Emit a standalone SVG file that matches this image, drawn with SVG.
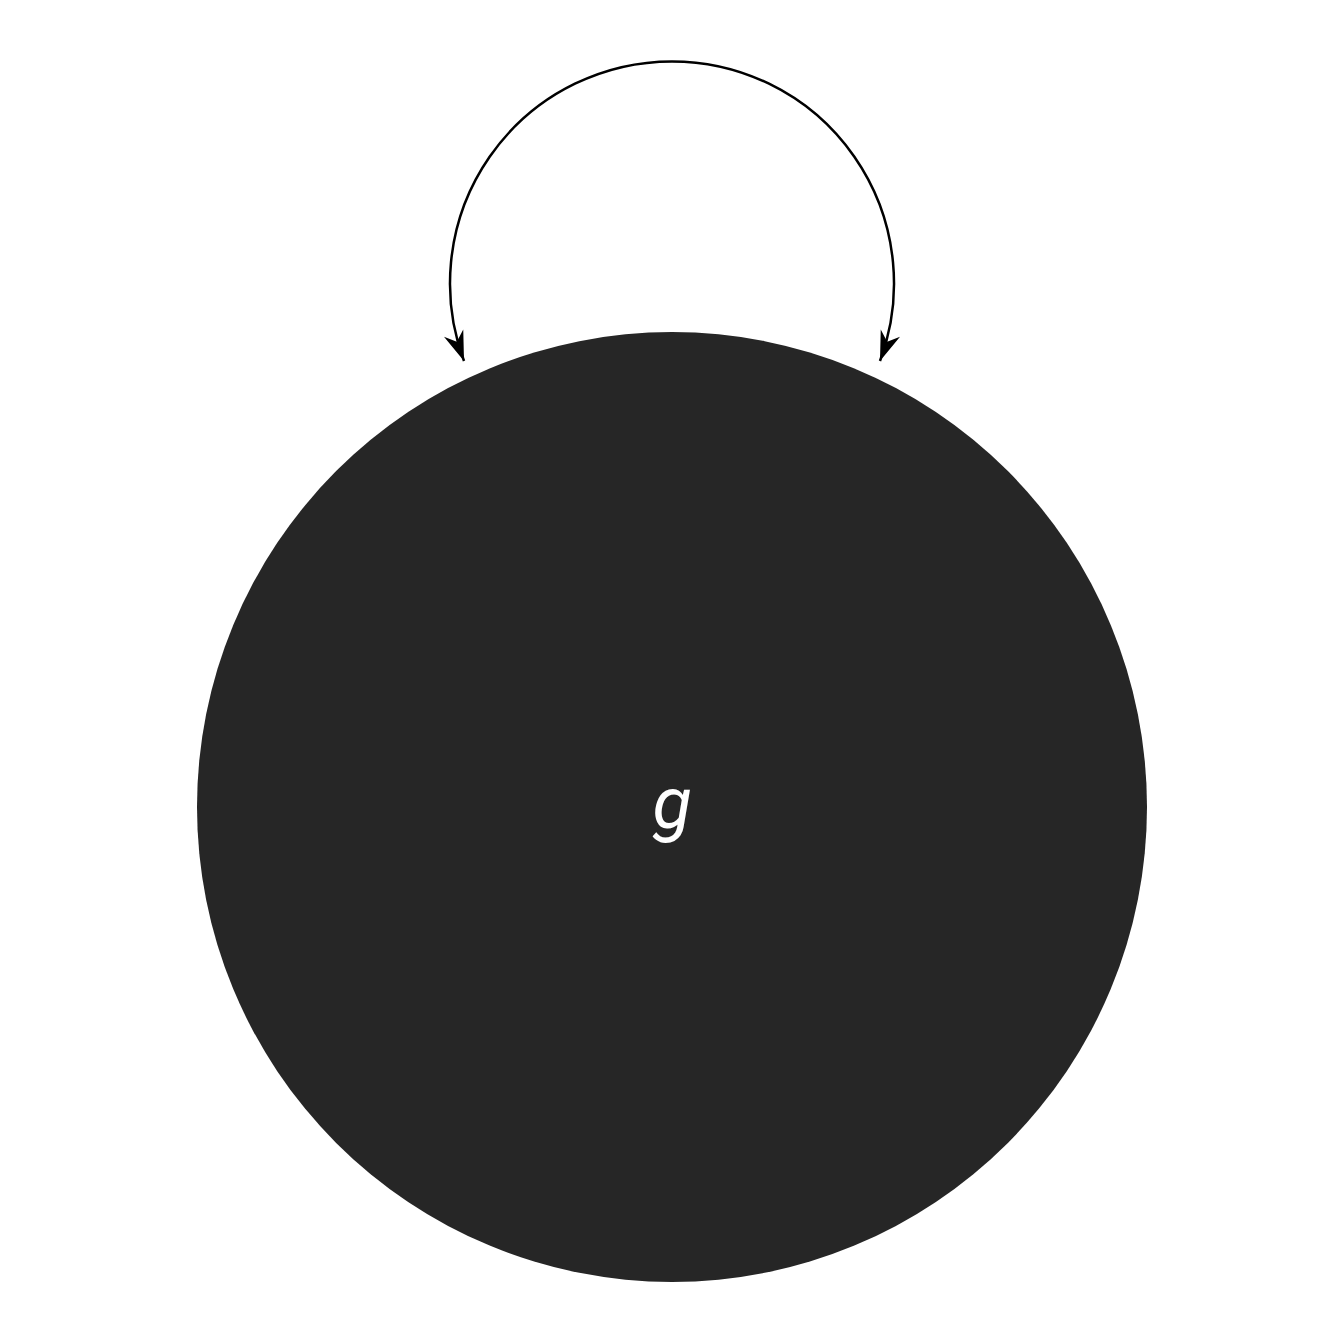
<svg xmlns="http://www.w3.org/2000/svg" width="1344" height="1344" viewBox="0 0 1344 1344">
<defs>
<style>
.node{fill:#262626;}
.label{fill:#ffffff;font-family:Roboto,"Liberation Sans",sans-serif;font-style:italic;font-size:72px;text-anchor:middle;}
.edge{fill:none;stroke:#000000;stroke-width:2.5;}
</style>
<marker id="arrow" markerUnits="userSpaceOnUse" markerWidth="40" markerHeight="40" viewBox="-30 -15 35 30" refX="0" refY="0" orient="auto-start-reverse">
<path d="M0,0 L-26,-9 L-18,0 L-26,9 Z" fill="#000000"/>
</marker>
</defs>
<rect width="1344" height="1344" fill="#ffffff"/>
<g id="node-g">
<circle class="node" cx="672" cy="807" r="475"/>
<text class="label" x="672" y="828">g</text>
</g>
<g id="connectors">
<path class="edge" d="M464,361 A222,222 0 1 1 880,361" marker-start="url(#arrow)" marker-end="url(#arrow)"/>
</g>
</svg>
